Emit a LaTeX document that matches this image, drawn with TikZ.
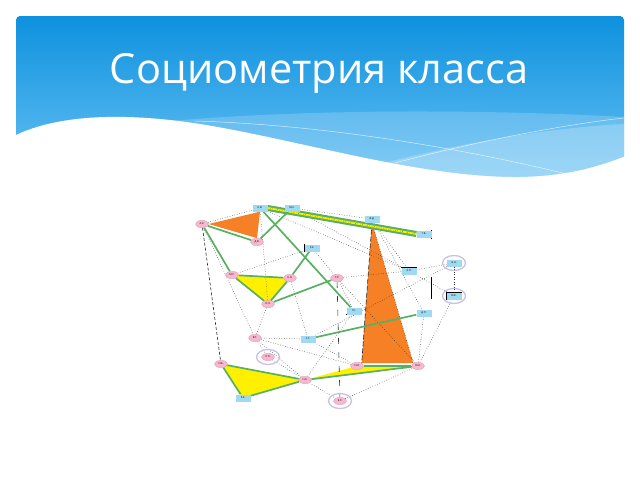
\documentclass[tikz,border=0pt]{standalone}
\usepackage{fontspec}
\setmainfont{Open Sans}
\usetikzlibrary{shapes.geometric}
\pgfdeclarelayer{back}
\pgfdeclarelayer{edges}
\pgfsetlayers{back,edges,main}
\definecolor{hdtop}{RGB}{14,145,222}
\definecolor{hdbot}{RGB}{112,198,246}
\definecolor{pk}{RGB}{246,184,206}
\definecolor{pkd}{RGB}{225,150,182}
\definecolor{bl}{RGB}{160,218,242}
\definecolor{grn}{RGB}{88,176,98}
\definecolor{org}{RGB}{245,128,38}
\definecolor{yel}{RGB}{255,240,0}
\definecolor{lav}{RGB}{202,192,230}
\newcommand{\dlbl}{\fontsize{2.6}{3}\selectfont}
\begin{document}
\begin{tikzpicture}[x=1pt,y=-1pt,
  pn/.style={ellipse,fill=pk,draw=pkd,line width=0.3pt,minimum width=13pt,minimum height=7.5pt,inner sep=0pt,font=\dlbl},
  bn/.style={rectangle,fill=bl,minimum width=15pt,minimum height=7pt,inner sep=0pt,font=\dlbl},
  ring/.style={ellipse,draw=lav,line width=1.3pt,minimum width=23pt,minimum height=15pt,inner sep=0pt},
  gl/.style={draw=grn,line width=1.7pt},
  dl/.style={draw=black!85,line width=0.5pt,dotted},
  dsh/.style={draw=black!85,line width=0.6pt,dash pattern=on 3pt off 2pt},
  sl/.style={draw=black,line width=0.6pt}]

% ---------- slide background ----------
\begin{pgfonlayer}{back}
\fill[white] (0,0) rectangle (640,480);
\shade[top color=hdtop,bottom color=hdbot,rounded corners=4pt] (16,195) -- (16,16) -- (624,16) -- (624,195) -- cycle;
\fill[white,opacity=0.18] (170,121) .. controls (320,108) and (500,110) .. (624,117) -- (624,195) -- (170,195) -- cycle;
\fill[white,opacity=0.22] (330,178) .. controls (430,148) and (540,128) .. (624,124) -- (624,195) -- (330,195) -- cycle;
\draw[white,opacity=0.7,line width=0.5pt] (195,121) .. controls (330,125) and (470,150) .. (575,176);
\draw[white,opacity=0.7,line width=0.5pt] (395,163) .. controls (470,143) and (560,125) .. (624,118);
\fill[white] (14,136) .. controls (50,118) and (110,110) .. (200,124) .. controls (300,140) and (420,178) .. (520,177) .. controls (570,176) and (600,166) .. (626,156) -- (626,200) -- (14,200) -- cycle;
\end{pgfonlayer}

\node[text=white,font=\fontsize{41.5}{48}\selectfont,anchor=base] (title) at (319,83) {Социометрия класса};

% ---------- nodes ----------
\node[pn] (P1) at (202,224) {А.К.};
\node[pn] (P2) at (257,242) {Д.В.};
\node[pn] (P3) at (232,275) {М.С.};
\node[pn] (P4) at (290,278) {Е.Н.};
\node[pn] (P5) at (268,304) {О.Л.};
\node[pn] (P6) at (337,278) {Т.Р.};
\node[pn] (P7) at (255,338) {В.Г.};
\node[pn] (P8) at (268,357) {Л.П.};
\node[pn] (P9) at (221,364) {И.Б.};
\node[pn] (P10) at (305,380) {Н.А.};
\node[pn] (P11) at (357,366) {С.М.};
\node[pn] (P12) at (418,366) {Ю.К.};
\node[pn] (P13) at (340,401) {Е.Р.};
\node[bn] (B1) at (260,208) {К.В.};
\node[bn] (B2) at (292,208) {М.Х.};
\node[bn] (B3) at (372,219) {Ф.Д.};
\node[bn] (B4) at (424,234) {Т.Б.};
\node[bn] (B5) at (312,248) {Р.А.};
\node[bn] (B6) at (409,271) {А.П.};
\node[bn] (B7) at (454,263) {Б.Н.};
\node[bn] (B8) at (454,296) {В.Ж.};
\node[bn] (B9) at (354,311) {Г.С.};
\node[bn] (B10) at (424,313) {Д.П.};
\node[bn] (B11) at (308,339) {С.Т.};
\node[bn] (B12) at (243,398) {К.Е.};
\node[ring] (R8) at (P8) {};
\node[ring] (R13) at (P13) {};
\node[ring] (R7) at (B7) {};
\node[ring] (R8b) at (B8) {};

% ---------- fills and connectors ----------
\begin{pgfonlayer}{edges}
\fill[org] (P1.east) -- (B1.south) -- (P2.north) -- cycle;
\fill[org] (B3.south) -- (P11.north east) -- (P12.north west) -- cycle;
\fill[yel] (P3.center) -- (P4.center) -- (P5.center) -- cycle;
\fill[yel] (P9.center) -- (P10.center) -- (B12.center) -- cycle;
\fill[yel] (P10.center) -- (P11.center) -- (P12.center) -- cycle;

% dotted / dashed
\draw[dl] (P1) -- (B1);
\draw[dsh] (P1) -- (P9);
\draw[dl] (P1) -- (P7);
\draw[dl] (B1) -- (P5);
\draw[dl] (B1) -- (B6);
\draw[dl] (B2) -- (B6);
\draw[dl] (B2) -- (B3);
\draw[dl] (B3) -- (B6);
\draw[dl] (B3) -- (B10);
\draw[dsh,dash pattern=on 5pt off 2pt] (B3.south) -- (P11.north east);
\draw[dl] (B3.south) -- (P12.north west);
\draw[dl] (P11) -- (P12);
\draw[dl] (P3) -- (B5);
\draw[dl] (B5) -- (P6);
\draw[dl] (P6) -- (B6);
\draw[dl] (B6) -- (B7);
\draw[dl] (B6) -- (B8);
\draw[dl] (B7) -- (B11);
\draw[dl] (P6) -- (B9);
\draw[dl] (P6) -- (P12);
\draw[draw=black!80,line width=0.6pt,dash pattern=on 6pt off 8pt] (P6) -- (P13);
\draw[dl] (P4) -- (B11);
\draw[dl] (P5) -- (P7);
\draw[dl] (P7) -- (B11);
\draw[dl] (P7) -- (P8);
\draw[dl] (P7) -- (P10);
\draw[dl] (P7) -- (P11);
\draw[dl] (P8) -- (P10);
\draw[dl] (B11) -- (P11);
\draw[dl] (B9) -- (P10);
\draw[dl] (P10) -- (P13);
\draw[dl] (P13) -- (P12);
\draw[dl] (P12) -- (B8);
\draw[dl] (P12) -- (B10);
\draw[dl] (B8) -- (B7);

% solid black marks
\draw[sl] (B6.north west) -- (B6.north east) -- (B6.south east);
\draw[sl] (B5.north west) -- (B5.south west);
\draw[sl] (B9.south west) -- (B9.south east);
\draw[sl] (B8.south west) -- (B8.north west) -- (B8.north east);
\draw[sl,dash pattern=on 9pt off 38pt on 22pt off 20pt] (B4.north east) -- (B10.north east);

% green ties
\draw[grn,line width=6pt] (B1.east) -- (B4.west);
\draw[yel,line width=1.8pt] (B1.east) -- (B4.west);
\draw[black!80,line width=0.4pt,dotted] (B1.east) -- (B4.west);
\draw[gl] (P1) -- (P2);
\draw[gl] (P1) -- (P3);
\draw[gl] (P3) -- (P4);
\draw[gl] (P4) -- (P5);
\draw[gl] (P5) -- (P3);
\draw[gl] (P2) -- (B2);
\draw[gl] (B1) -- (B9);
\draw[gl] (B5) -- (P4);
\draw[gl] (P6) -- (P5);
\draw[gl] (B11) -- (B10);
\draw[gl] (P9) -- (P10);
\draw[gl] (P10) -- (B12);
\draw[gl] (B12) -- (P9);
\draw[gl] (P10) -- (P12);
\draw[gl] (P11) -- (P12);
\end{pgfonlayer}
\useasboundingbox (0,0) rectangle (640,480);
\end{tikzpicture}
\end{document}
